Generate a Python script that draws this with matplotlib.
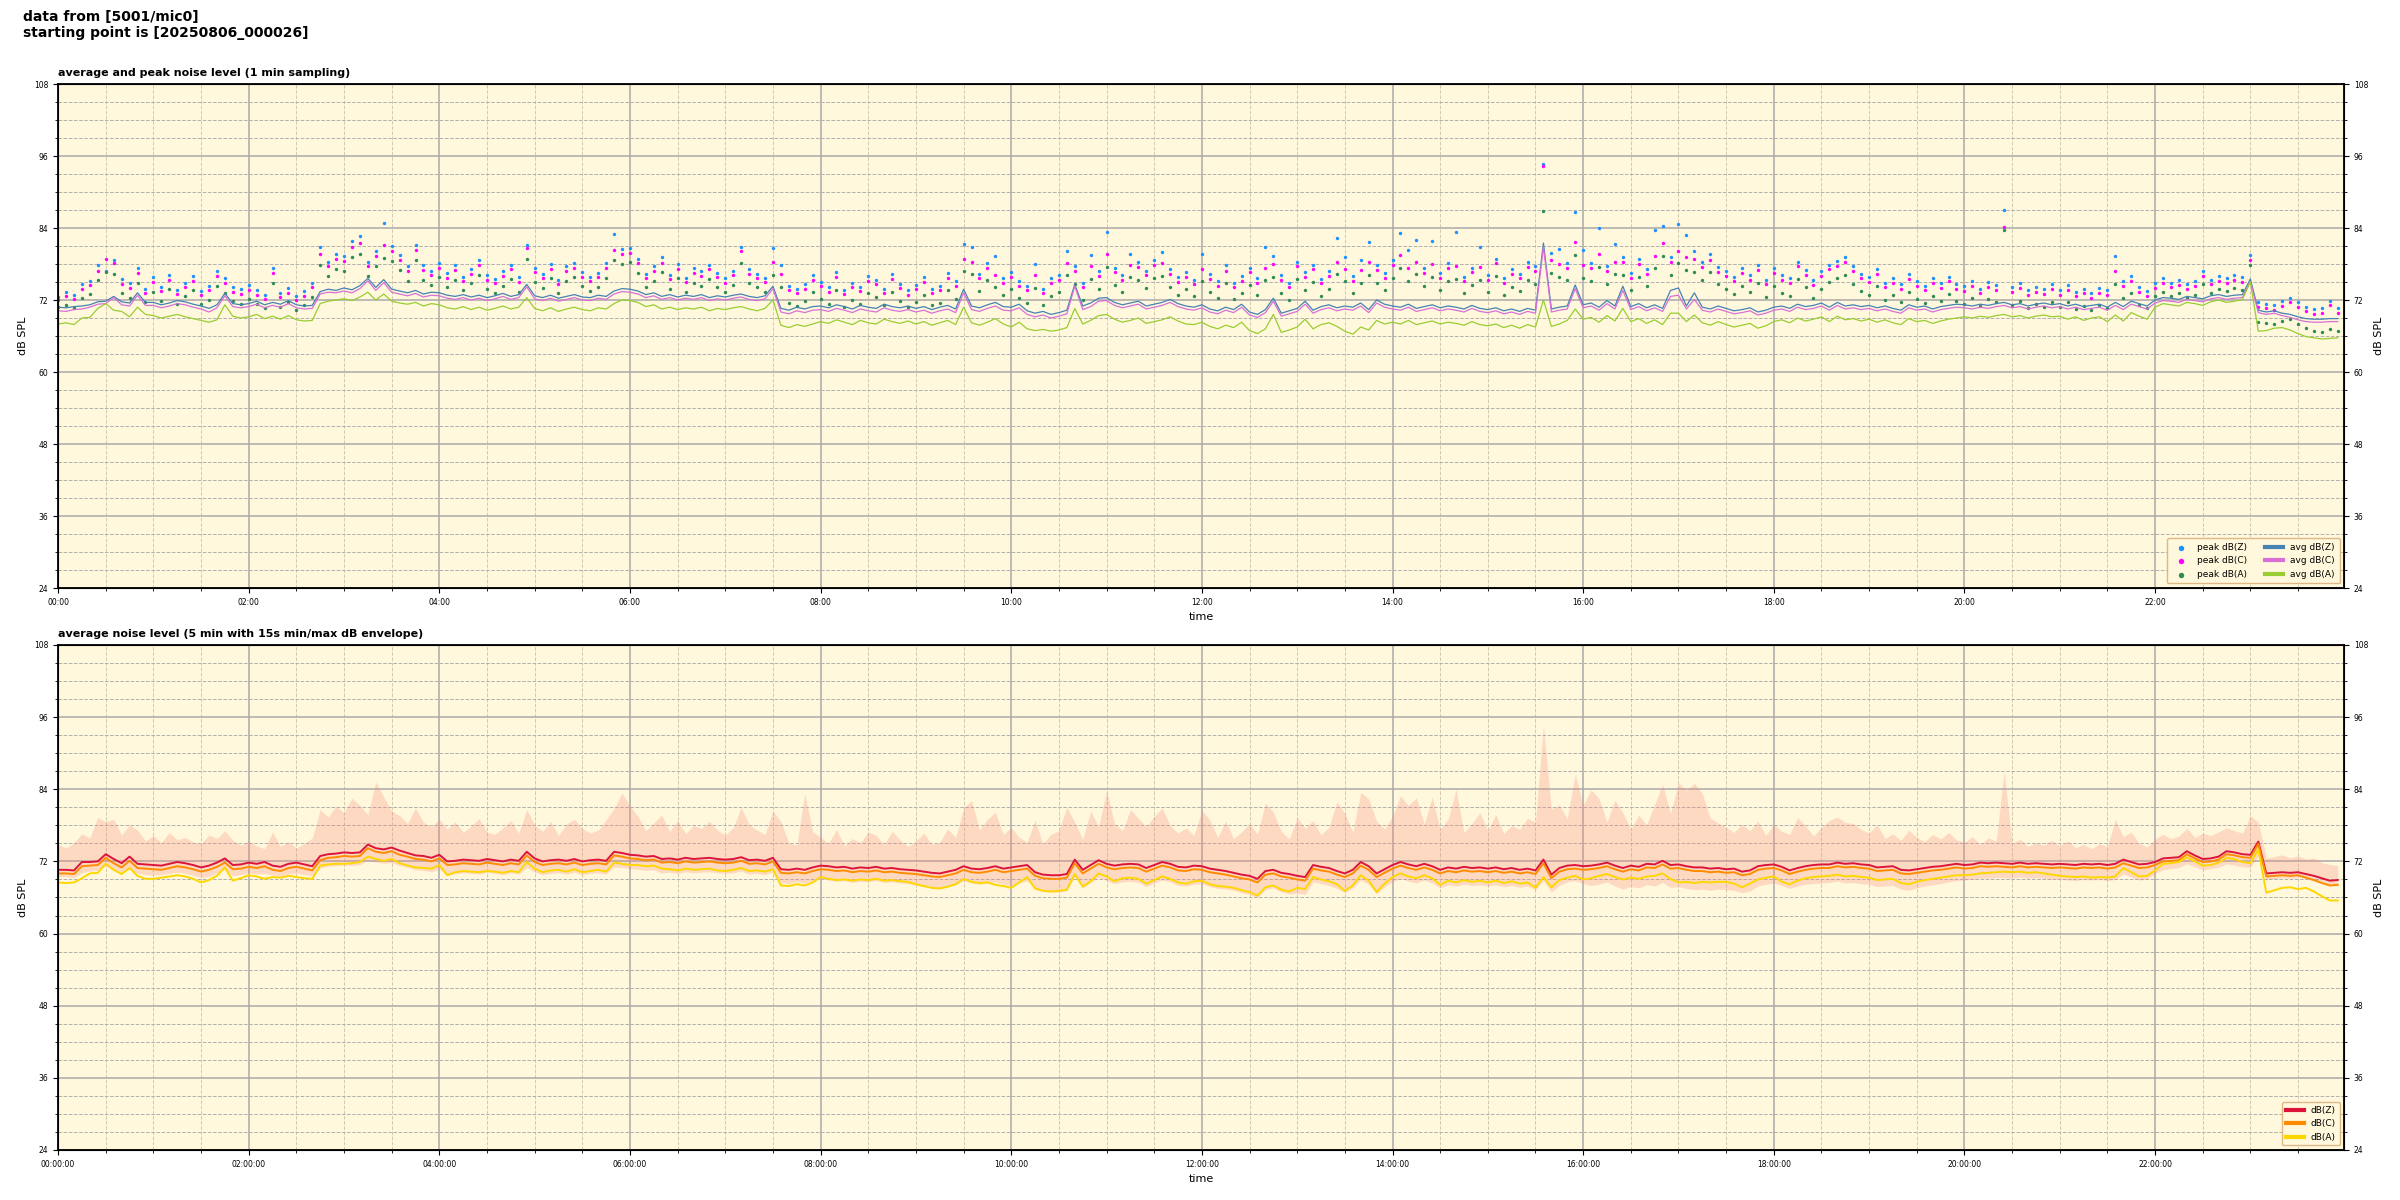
import numpy as np
import matplotlib
matplotlib.use('Agg')
import matplotlib.pyplot as plt
import matplotlib.dates as mdates
from matplotlib.ticker import MultipleLocator

# 1 min sampling, every 5 min (one row = one hour)
avg_z = [
    70.8, 70.7, 70.9, 71.0, 71.2, 71.7, 71.8, 72.6, 71.7, 71.5, 73.2, 71.6,
    71.6, 71.2, 71.5, 71.9, 71.7, 71.3, 71.0, 70.6, 71.2, 73.1, 71.4, 71.2,
    71.4, 71.8, 71.2, 71.6, 71.3, 71.9, 71.2, 71.0, 71.1, 73.4, 73.8, 73.6,
    74.0, 73.7, 74.4, 75.6, 74.1, 75.4, 73.8, 73.5, 73.2, 73.6, 73.0, 73.3,
    73.2, 72.8, 72.6, 72.9, 72.5, 72.8, 72.4, 72.7, 73.1, 72.6, 72.9, 74.6,
    72.7, 72.4, 72.8, 72.3, 72.6, 72.9, 72.5, 72.4, 72.8, 72.6, 73.5, 73.9,
    73.8, 73.5, 72.9, 73.2, 72.6, 72.9, 72.5, 72.8, 72.6, 72.9, 72.4, 72.7,
    72.5, 72.8, 73.0, 72.6, 72.4, 72.7, 74.3, 70.6, 70.3, 70.8, 70.5, 70.9,
    71.0, 70.7, 71.2, 70.9, 70.5, 71.1, 70.8, 70.6, 71.3, 70.9, 70.7, 71.0,
    70.6, 70.9, 70.4, 70.8, 71.1, 70.5, 73.8, 71.0, 70.7, 71.2, 71.6, 70.9,
    70.8, 71.3, 70.2, 69.8, 70.1, 69.6, 69.9, 70.3, 74.6, 71.0, 71.5, 72.3,
    72.4, 71.6, 71.2, 71.5, 71.8, 71.0, 71.3, 71.6, 72.1, 71.4, 71.0, 70.8,
    71.2, 70.5, 70.2, 70.8, 70.4, 71.3, 70.0, 69.6, 70.4, 72.3, 69.8, 70.2,
    70.6, 71.8, 70.3, 70.9, 71.2, 70.7, 71.0, 70.8, 71.5, 70.4, 72.0, 71.3,
    71.0, 70.8, 71.3, 70.6, 70.9, 71.2, 70.7, 71.0, 70.8, 70.5, 71.1, 70.6,
    70.4, 70.7, 70.2, 70.5, 70.1, 70.6, 70.3, 81.5, 70.5, 70.8, 71.0, 74.5,
    71.2, 71.5, 70.8, 71.9, 71.0, 74.3, 70.9, 71.4, 70.7, 71.2, 70.6, 73.6,
    74.0, 71.0, 73.2, 70.8, 70.5, 71.0, 70.6, 70.2, 70.4, 70.7, 70.0, 70.3,
    70.8, 71.0, 70.6, 71.3, 70.9, 71.1, 71.5, 70.8, 71.6, 71.0, 71.2, 70.9,
    71.1, 70.7, 71.0, 70.6, 70.3, 71.2, 70.8, 71.0, 70.5, 70.9, 71.1, 71.3,
    71.2, 71.0, 71.3, 71.1, 71.4, 71.6, 71.2, 71.4, 71.0, 71.3, 71.5, 71.2,
    71.4, 71.0, 71.3, 70.9, 71.1, 71.3, 70.8, 71.6, 70.9, 71.8, 71.4, 71.0,
    72.0, 72.4, 72.3, 72.1, 72.6, 72.4, 72.2, 72.7, 72.9, 72.6, 72.8, 72.9,
    75.5, 70.3, 70.0, 70.2, 69.8, 69.6, 69.2, 68.9, 68.8, 68.8, 68.9, 68.9,
]
avg_c = [
    70.2, 70.1, 70.4, 70.5, 70.8, 71.3, 71.4, 72.4, 71.2, 71.0, 72.8, 71.1,
    71.1, 70.7, 71.0, 71.4, 71.2, 70.8, 70.5, 70.0, 70.7, 72.7, 70.9, 70.7,
    70.9, 71.3, 70.7, 71.1, 70.8, 71.4, 70.7, 70.5, 70.6, 73.0, 73.3, 73.2,
    73.5, 73.2, 73.9, 75.2, 73.6, 74.9, 73.3, 73.0, 72.7, 73.1, 72.5, 72.8,
    72.7, 72.3, 72.1, 72.4, 72.0, 72.3, 71.9, 72.2, 72.6, 72.1, 72.4, 74.2,
    72.2, 71.9, 72.3, 71.8, 72.1, 72.4, 72.0, 71.9, 72.3, 72.1, 73.0, 73.4,
    73.3, 73.0, 72.4, 72.7, 72.1, 72.4, 72.0, 72.3, 72.1, 72.4, 71.9, 72.2,
    72.0, 72.3, 72.5, 72.1, 71.9, 72.2, 73.9, 70.0, 69.7, 70.2, 69.9, 70.3,
    70.4, 70.1, 70.6, 70.3, 69.9, 70.5, 70.2, 70.0, 70.7, 70.3, 70.1, 70.4,
    70.0, 70.3, 69.8, 70.2, 70.5, 69.9, 73.2, 70.4, 70.1, 70.6, 71.0, 70.3,
    70.2, 70.7, 69.6, 69.2, 69.5, 69.0, 69.3, 69.7, 74.3, 70.4, 70.9, 71.8,
    71.9, 71.1, 70.7, 71.0, 71.3, 70.5, 70.8, 71.1, 71.6, 70.9, 70.5, 70.3,
    70.7, 70.0, 69.7, 70.3, 69.9, 70.8, 69.5, 69.1, 69.9, 71.8, 69.3, 69.7,
    70.1, 71.3, 69.8, 70.4, 70.7, 70.2, 70.5, 70.3, 71.0, 69.9, 71.5, 70.8,
    70.5, 70.3, 70.8, 70.1, 70.4, 70.7, 70.2, 70.5, 70.3, 70.0, 70.6, 70.1,
    69.9, 70.2, 69.7, 70.0, 69.6, 70.1, 69.8, 80.8, 70.0, 70.3, 70.5, 73.9,
    70.7, 71.0, 70.3, 71.4, 70.5, 73.6, 70.4, 70.9, 70.2, 70.7, 70.1, 72.6,
    72.8, 70.5, 72.1, 70.3, 70.0, 70.5, 70.1, 69.7, 69.9, 70.2, 69.5, 69.8,
    70.3, 70.5, 70.1, 70.8, 70.4, 70.6, 71.0, 70.3, 71.1, 70.5, 70.7, 70.4,
    70.6, 70.2, 70.5, 70.1, 69.8, 70.7, 70.3, 70.5, 70.0, 70.4, 70.6, 70.8,
    70.7, 70.5, 70.8, 70.6, 70.9, 71.1, 70.7, 70.9, 70.5, 70.8, 71.0, 70.7,
    70.9, 70.5, 70.8, 70.4, 70.6, 70.8, 70.3, 71.1, 70.4, 71.3, 70.9, 70.5,
    71.5, 71.9, 71.8, 71.6, 72.1, 71.9, 71.7, 72.2, 72.4, 72.1, 72.3, 72.4,
    75.1, 69.9, 69.6, 69.8, 69.4, 69.1, 68.7, 68.4, 68.3, 68.3, 68.4, 68.4,
]
avg_a = [
    68.0, 68.2, 67.9, 69.0, 69.1, 70.6, 71.4, 70.3, 70.1, 69.2, 70.8, 69.6,
    69.4, 69.0, 69.3, 69.6, 69.2, 68.9, 68.6, 68.3, 68.7, 71.2, 69.3, 69.0,
    69.2, 69.6, 68.9, 69.3, 68.8, 69.4, 68.7, 68.5, 68.6, 71.4, 71.8, 72.0,
    72.2, 71.9, 72.5, 73.3, 72.0, 73.0, 71.8, 71.5, 71.3, 71.6, 71.0, 71.4,
    71.2, 70.7, 70.5, 70.9, 70.4, 70.8, 70.3, 70.6, 71.0, 70.5, 70.8, 72.4,
    70.6, 70.2, 70.7, 70.1, 70.5, 70.8, 70.4, 70.2, 70.7, 70.5, 71.4, 72.0,
    71.9, 71.6, 70.9, 71.2, 70.5, 70.8, 70.4, 70.7, 70.5, 70.8, 70.2, 70.6,
    70.4, 70.7, 70.9, 70.5, 70.2, 70.6, 72.0, 67.8, 67.4, 67.9, 67.6, 68.0,
    68.4, 68.1, 68.7, 68.3, 67.9, 68.6, 68.2, 68.0, 68.8, 68.4, 68.1, 68.5,
    68.0, 68.4, 67.8, 68.2, 68.6, 67.9, 70.8, 68.2, 67.8, 68.3, 68.9, 68.0,
    67.5, 68.3, 67.2, 66.9, 67.1, 66.8, 67.0, 67.4, 70.6, 68.0, 68.6, 69.4,
    69.6, 68.8, 68.3, 68.6, 69.0, 68.1, 68.4, 68.7, 69.2, 68.5, 68.0, 67.9,
    68.3, 67.6, 67.2, 67.8, 67.4, 68.3, 66.9, 66.4, 67.2, 69.6, 66.6, 67.0,
    67.5, 68.8, 67.2, 67.9, 68.2, 67.6, 66.8, 66.3, 67.5, 67.0, 68.6, 68.0,
    68.3, 68.0, 68.6, 67.9, 68.2, 68.5, 68.0, 68.3, 68.1, 67.8, 68.4, 67.9,
    67.7, 68.0, 67.4, 67.8, 67.3, 67.9, 67.5, 72.0, 67.6, 68.0, 68.6, 70.5,
    68.8, 69.1, 68.3, 69.4, 68.5, 70.6, 68.4, 68.9, 68.1, 68.7, 67.9, 69.8,
    69.8, 68.4, 69.5, 68.2, 67.8, 68.4, 67.9, 67.5, 67.8, 68.1, 67.3, 67.7,
    68.4, 68.7, 68.2, 69.0, 68.5, 68.8, 69.2, 68.4, 69.3, 68.7, 68.9, 68.5,
    68.8, 68.3, 68.7, 68.2, 67.9, 68.9, 68.4, 68.6, 68.1, 68.5, 68.8, 69.0,
    69.2, 69.0, 69.3, 69.1, 69.4, 69.6, 69.2, 69.4, 69.0, 69.3, 69.5, 69.2,
    69.3, 68.8, 69.2, 68.6, 69.0, 69.2, 68.4, 69.5, 68.5, 69.9, 69.3, 68.8,
    70.8, 71.4, 71.2, 71.0, 71.6, 71.4, 71.1, 71.7, 72.0, 71.6, 71.8, 72.1,
    75.0, 66.8, 66.9, 67.3, 67.4, 67.0, 66.4, 65.9, 65.7, 65.5, 65.6, 65.7,
]
peak_z = [
    72.5, 73.4, 72.8, 74.6, 75.2, 77.8, 76.9, 78.7, 75.5, 74.8, 77.3, 73.9,
    75.8, 74.2, 76.1, 73.7, 74.9, 76.0, 73.5, 74.4, 76.9, 75.6, 74.1, 73.8,
    74.5, 73.6, 72.9, 77.4, 73.2, 74.0, 72.7, 73.5, 74.9, 80.9, 78.4, 79.6,
    79.3, 81.8, 82.6, 78.4, 80.2, 84.9, 81.0, 79.5, 77.6, 81.2, 77.8, 76.9,
    78.2, 76.5, 77.8, 75.9, 77.2, 78.6, 76.1, 75.5, 76.8, 77.9, 75.8, 81.1,
    77.4, 76.3, 78.0, 75.4, 77.6, 78.2, 76.7, 75.8, 76.5, 78.1, 83.0, 80.5,
    80.7, 78.9, 76.4, 77.6, 79.1, 76.2, 78.0, 75.7, 77.3, 76.8, 77.9, 76.5,
    75.6, 76.9, 80.8, 77.2, 76.4, 75.7, 80.6, 77.9, 74.3, 73.8, 74.6, 76.1,
    75.0, 74.1, 76.6, 73.7, 74.9, 74.2, 76.0, 75.4, 73.9, 76.3, 74.7, 73.6,
    74.5, 75.8, 73.9, 74.3, 76.5, 75.1, 81.3, 80.8, 76.4, 78.2, 79.3, 75.6,
    76.7, 75.1, 74.3, 78.0, 73.9, 75.6, 76.2, 80.1, 77.6, 74.8, 79.5, 76.8,
    83.3, 77.4, 76.2, 79.7, 78.3, 76.9, 78.6, 80.0, 77.1, 75.8, 76.7, 75.4,
    79.6, 76.3, 75.1, 77.8, 74.9, 76.0, 77.4, 75.6, 80.8, 79.3, 76.1, 74.8,
    78.4, 76.6, 77.9, 75.5, 76.8, 82.3, 79.1, 76.0, 78.7, 81.6, 77.8, 76.5,
    78.6, 83.2, 80.4, 82.0, 77.3, 81.8, 76.5, 78.1, 83.3, 75.9, 77.4, 80.8,
    76.2, 78.9, 75.7, 77.1, 76.4, 78.3, 77.6, 94.6, 79.8, 80.5, 78.2, 86.7,
    80.4, 78.1, 84.0, 77.6, 81.3, 79.2, 76.5, 78.8, 77.2, 83.6, 84.4, 79.1,
    84.7, 82.9, 80.1, 78.3, 79.6, 77.5, 76.8, 75.9, 77.3, 76.2, 77.8, 75.4,
    77.3, 76.1, 75.6, 78.4, 77.0, 75.3, 76.8, 77.9, 78.5, 79.1, 77.6, 76.4,
    75.8, 77.2, 74.9, 75.7, 74.6, 76.3, 75.1, 74.4, 75.6, 74.8, 75.9, 74.7,
    74.3, 75.2, 73.9, 75.0, 74.5, 87.0, 74.1, 74.8, 73.6, 74.2, 73.8, 74.6,
    73.7, 74.5, 73.4, 73.9, 73.2, 74.0, 73.6, 79.4, 75.2, 76.0, 74.1, 73.5,
    74.8, 75.6, 74.9, 75.3, 74.6, 75.1, 76.8, 75.4, 76.0, 75.7, 76.2, 75.8,
    79.5, 71.6, 71.4, 71.2, 71.8, 72.4, 71.6, 70.9, 70.5, 70.7, 71.9, 70.6,
]
peak_c = [
    72.0, 72.6, 72.1, 73.8, 74.5, 76.9, 78.8, 78.2, 74.6, 74.0, 76.5, 73.2,
    75.0, 73.5, 75.4, 73.0, 74.1, 75.2, 72.8, 73.6, 76.0, 74.8, 73.4, 73.0,
    73.7, 72.9, 72.2, 76.5, 72.5, 73.2, 72.0, 72.7, 74.1, 79.6, 77.6, 78.8,
    78.5, 80.9, 81.5, 77.6, 79.3, 81.1, 80.2, 78.6, 76.8, 80.4, 77.0, 76.1,
    77.4, 75.7, 77.0, 75.2, 76.4, 77.8, 75.4, 74.8, 76.0, 77.1, 75.0, 80.7,
    76.6, 75.6, 77.2, 74.7, 76.8, 77.4, 75.9, 75.1, 75.8, 77.3, 80.4, 79.6,
    79.9, 78.1, 75.7, 76.8, 78.2, 75.5, 77.2, 75.0, 76.5, 76.0, 77.1, 75.8,
    74.9, 76.1, 80.1, 76.4, 75.7, 75.0, 78.3, 76.4, 73.6, 73.1, 73.9, 75.4,
    74.3, 73.4, 75.8, 73.0, 74.1, 73.5, 75.2, 74.6, 73.2, 75.5, 74.0, 72.9,
    73.8, 75.0, 73.2, 73.6, 75.7, 74.3, 78.9, 78.4, 75.6, 77.4, 76.2, 74.9,
    75.9, 74.4, 73.6, 76.1, 73.2, 74.8, 75.4, 78.2, 76.8, 74.1, 77.6, 76.0,
    79.6, 76.6, 75.4, 77.9, 77.5, 76.1, 77.8, 78.1, 76.3, 75.0, 75.9, 74.7,
    77.2, 75.5, 74.4, 76.9, 74.2, 75.2, 76.6, 74.9, 77.4, 78.0, 75.3, 74.1,
    77.6, 75.8, 77.1, 74.8, 76.0, 78.4, 77.2, 75.2, 77.0, 78.3, 77.0, 75.7,
    77.8, 79.5, 77.3, 78.4, 76.5, 78.0, 75.7, 77.3, 77.6, 75.2, 76.6, 77.5,
    75.4, 78.1, 74.9, 76.3, 75.6, 77.5, 76.8, 94.4, 78.6, 78.0, 77.4, 81.6,
    77.8, 77.3, 79.6, 76.8, 78.4, 78.3, 75.7, 78.0, 76.4, 79.4, 81.5, 78.3,
    80.2, 79.1, 78.8, 77.5, 78.7, 76.7, 76.0, 75.1, 76.5, 75.4, 77.0, 74.6,
    76.5, 75.3, 74.8, 77.6, 76.2, 74.5, 76.0, 77.1, 77.7, 78.3, 76.8, 75.6,
    75.0, 76.4, 74.1, 74.9, 73.8, 75.5, 74.3, 73.6, 74.8, 74.0, 75.1, 73.9,
    73.5, 74.4, 73.1, 74.2, 73.7, 84.1, 73.3, 74.0, 72.8, 73.4, 73.0, 73.8,
    72.9, 73.7, 72.6, 73.1, 72.4, 73.2, 72.8, 76.8, 74.4, 75.2, 73.3, 72.7,
    74.0, 74.8, 74.1, 74.5, 73.8, 74.3, 76.0, 74.6, 75.2, 74.9, 75.4, 75.0,
    78.7, 70.8, 70.6, 70.4, 71.0, 71.6, 70.8, 70.1, 69.7, 69.9, 71.1, 69.8,
]
peak_a = [
    70.8, 71.2, 70.6, 72.4, 73.0, 75.3, 76.6, 76.4, 73.1, 72.4, 74.9, 71.7,
    73.4, 71.9, 73.8, 71.4, 72.6, 73.6, 71.3, 72.0, 74.4, 73.2, 71.8, 71.4,
    72.1, 71.3, 70.6, 74.9, 70.9, 71.6, 70.4, 71.1, 72.5, 77.9, 76.0, 77.1,
    76.9, 79.2, 79.6, 76.0, 77.7, 79.0, 78.5, 77.0, 75.2, 78.7, 75.4, 74.5,
    75.8, 74.1, 75.4, 73.6, 74.8, 76.2, 73.8, 73.2, 74.4, 75.5, 73.4, 78.9,
    75.0, 74.0, 75.6, 73.1, 75.2, 75.8, 74.3, 73.5, 74.2, 75.7, 78.6, 78.0,
    78.3, 76.5, 74.1, 75.2, 76.6, 73.9, 75.6, 73.4, 74.9, 74.4, 75.5, 74.2,
    73.3, 74.5, 78.2, 74.8, 74.1, 73.4, 76.1, 74.2, 71.5, 71.0, 71.8, 73.3,
    72.2, 71.3, 73.7, 70.9, 72.0, 71.4, 73.1, 72.5, 71.1, 73.4, 71.9, 70.8,
    71.7, 72.9, 71.1, 71.5, 73.6, 72.2, 76.8, 76.3, 73.5, 75.3, 74.1, 72.8,
    73.8, 72.3, 71.5, 74.0, 71.1, 72.7, 73.3, 76.1, 74.7, 72.0, 75.5, 73.9,
    77.5, 74.5, 73.3, 75.8, 75.4, 74.0, 75.7, 76.0, 74.2, 72.9, 73.8, 72.6,
    75.1, 73.4, 72.3, 74.8, 72.1, 73.1, 74.5, 72.8, 75.3, 75.9, 73.2, 72.0,
    75.5, 73.7, 75.0, 72.7, 73.9, 76.3, 75.1, 73.1, 74.9, 76.2, 74.9, 73.6,
    75.7, 77.4, 75.2, 76.3, 74.4, 75.9, 73.6, 75.2, 75.5, 73.1, 74.5, 75.4,
    73.3, 76.0, 72.8, 74.2, 73.5, 75.4, 74.7, 86.8, 76.5, 75.9, 75.3, 79.5,
    75.7, 75.2, 77.5, 74.7, 76.3, 76.2, 73.6, 75.9, 74.3, 77.3, 79.4, 76.2,
    78.1, 77.0, 76.7, 75.4, 76.6, 74.6, 73.9, 73.0, 74.4, 73.3, 74.9, 72.5,
    74.4, 73.2, 72.7, 75.5, 74.1, 72.4, 73.9, 75.0, 75.6, 76.2, 74.7, 73.5,
    72.9, 74.3, 72.0, 72.8, 71.7, 73.4, 72.2, 71.5, 72.7, 71.9, 73.0, 71.8,
    71.4, 72.3, 71.0, 72.1, 71.6, 83.6, 71.2, 71.9, 70.7, 71.3, 70.9, 71.7,
    70.8, 71.6, 70.5, 71.0, 70.3, 71.1, 70.7, 74.7, 72.3, 73.1, 71.2, 70.6,
    72.6, 73.4, 72.7, 73.1, 72.4, 72.9, 74.6, 73.2, 73.8, 73.5, 74.0, 73.6,
    77.8, 68.3, 68.1, 68.0, 68.5, 68.9, 68.0, 67.3, 66.9, 66.7, 67.2, 66.8,
]

# 5 min averages
lvl_z = [
    70.6, 70.6, 70.5, 71.9, 71.9, 72.0, 73.2, 72.4, 71.7, 72.8, 71.6, 71.5,
    71.4, 71.3, 71.6, 71.9, 71.7, 71.4, 71.0, 71.3, 71.8, 72.5, 71.4, 71.5,
    71.8, 71.6, 71.9, 71.3, 71.1, 71.6, 71.8, 71.5, 71.2, 72.9, 73.2, 73.3,
    73.5, 73.4, 73.5, 74.8, 74.2, 74.0, 74.3, 73.8, 73.4, 73.0, 72.9, 72.6,
    73.1, 72.0, 72.1, 72.3, 72.2, 72.1, 72.4, 72.2, 72.0, 72.3, 72.1, 73.6,
    72.5, 72.0, 72.2, 72.3, 72.1, 72.4, 72.0, 72.2, 72.3, 72.1, 73.6, 73.4,
    73.1, 73.0, 72.8, 72.9, 72.4, 72.5, 72.3, 72.6, 72.4, 72.5, 72.6, 72.4,
    72.3, 72.4, 72.7, 72.2, 72.3, 72.1, 72.6, 70.7, 70.6, 70.8, 70.6, 71.0,
    71.3, 71.2, 71.0, 71.1, 70.8, 71.0, 70.9, 71.1, 70.8, 70.9, 70.7, 70.6,
    70.5, 70.3, 70.1, 70.0, 70.3, 70.6, 71.2, 70.8, 70.7, 70.9, 71.2, 70.8,
    71.0, 71.2, 71.4, 70.2, 69.8, 69.7, 69.7, 69.9, 72.3, 70.6, 71.4, 72.2,
    71.6, 71.3, 71.5, 71.6, 71.5, 70.9, 71.4, 71.9, 71.6, 71.1, 71.0, 71.3,
    71.2, 70.8, 70.6, 70.4, 70.1, 69.8, 69.6, 69.1, 70.4, 70.6, 70.1, 69.9,
    69.6, 69.4, 71.4, 71.1, 70.9, 70.4, 70.0, 70.6, 71.9, 71.2, 70.0, 70.7,
    71.4, 71.9, 71.5, 71.2, 71.6, 71.2, 70.6, 71.0, 70.8, 71.1, 70.9, 71.0,
    70.8, 71.0, 70.7, 70.9, 70.6, 70.8, 70.5, 72.3, 69.8, 70.9, 71.3, 71.4,
    71.2, 71.3, 71.5, 71.8, 71.3, 70.9, 71.3, 71.1, 71.6, 71.5, 72.1, 71.4,
    71.5, 71.2, 71.0, 71.0, 70.8, 70.9, 70.7, 70.8, 70.3, 70.5, 71.2, 71.4,
    71.5, 71.1, 70.5, 70.9, 71.2, 71.4, 71.5, 71.5, 71.8, 71.6, 71.7, 71.5,
    71.4, 71.0, 71.1, 71.2, 70.6, 70.5, 70.7, 70.9, 71.1, 71.2, 71.4, 71.6,
    71.4, 71.5, 71.8, 71.7, 71.8, 71.7, 71.6, 71.8, 71.6, 71.7, 71.6, 71.5,
    71.6, 71.5, 71.4, 71.6, 71.5, 71.6, 71.4, 71.6, 72.3, 71.9, 71.5, 71.6,
    71.9, 72.5, 72.6, 72.7, 73.7, 73.0, 72.4, 72.5, 72.8, 73.7, 73.5, 73.2,
    73.1, 75.3, 70.0, 70.1, 70.2, 70.1, 70.2, 69.9, 69.6, 69.2, 68.8, 68.9,
]
lvl_c = [
    70.0, 70.0, 69.9, 71.2, 71.3, 71.4, 72.6, 71.7, 71.0, 72.1, 70.9, 70.8,
    70.7, 70.6, 70.9, 71.2, 71.0, 70.7, 70.3, 70.6, 71.1, 71.8, 70.7, 70.8,
    71.1, 70.9, 71.2, 70.6, 70.4, 70.9, 71.1, 70.8, 70.5, 72.2, 72.6, 72.7,
    72.9, 72.8, 72.9, 74.2, 73.6, 73.4, 73.7, 73.1, 72.8, 72.4, 72.3, 72.0,
    72.5, 71.4, 71.5, 71.7, 71.6, 71.5, 71.8, 71.6, 71.4, 71.7, 71.5, 73.0,
    71.9, 71.4, 71.6, 71.7, 71.5, 71.8, 71.4, 71.6, 71.7, 71.5, 73.0, 72.8,
    72.5, 72.4, 72.2, 72.3, 71.8, 71.9, 71.7, 72.0, 71.8, 71.9, 72.0, 71.8,
    71.7, 71.8, 72.1, 71.6, 71.7, 71.5, 72.0, 70.1, 70.0, 70.2, 70.0, 70.4,
    70.7, 70.6, 70.4, 70.5, 70.2, 70.4, 70.3, 70.5, 70.2, 70.3, 70.1, 70.0,
    69.9, 69.7, 69.5, 69.4, 69.7, 70.0, 70.6, 70.2, 70.1, 70.3, 70.6, 70.2,
    70.4, 70.6, 70.8, 69.6, 69.2, 69.1, 69.1, 69.3, 71.7, 70.0, 70.8, 71.6,
    71.0, 70.7, 70.9, 71.0, 70.9, 70.3, 70.8, 71.3, 71.0, 70.5, 70.4, 70.7,
    70.6, 70.2, 70.0, 69.8, 69.5, 69.2, 69.0, 68.5, 69.8, 70.0, 69.5, 69.3,
    69.0, 68.8, 70.8, 70.5, 70.3, 69.8, 69.4, 70.0, 71.3, 70.6, 69.4, 70.1,
    70.8, 71.3, 70.9, 70.6, 71.0, 70.6, 70.0, 70.4, 70.2, 70.5, 70.3, 70.4,
    70.2, 70.4, 70.1, 70.3, 70.0, 70.2, 69.9, 71.7, 69.2, 70.3, 70.7, 70.8,
    70.6, 70.7, 70.9, 71.2, 70.7, 70.3, 70.7, 70.5, 71.0, 70.9, 71.5, 70.8,
    70.9, 70.6, 70.4, 70.4, 70.2, 70.3, 70.1, 70.2, 69.7, 69.9, 70.6, 70.8,
    70.9, 70.5, 69.9, 70.3, 70.6, 70.8, 70.9, 70.9, 71.2, 71.0, 71.1, 70.9,
    70.8, 70.4, 70.5, 70.6, 70.0, 69.9, 70.1, 70.3, 70.5, 70.6, 70.8, 71.0,
    70.8, 70.9, 71.2, 71.1, 71.2, 71.1, 71.0, 71.2, 71.0, 71.1, 71.0, 70.9,
    71.0, 70.9, 70.8, 71.0, 70.9, 71.0, 70.8, 71.0, 71.7, 71.3, 70.9, 71.0,
    71.4, 72.0, 72.1, 72.2, 73.2, 72.5, 71.9, 72.0, 72.3, 73.2, 73.0, 72.7,
    72.6, 74.9, 69.5, 69.6, 69.7, 69.6, 69.7, 69.3, 68.9, 68.4, 68.0, 68.1,
]
lvl_a = [
    68.5, 68.4, 68.5, 69.2, 70.0, 70.1, 71.6, 70.6, 69.9, 70.9, 69.6, 69.1,
    69.1, 69.3, 69.5, 69.7, 69.5, 69.1, 68.5, 68.9, 69.6, 71.0, 68.8, 69.2,
    69.7, 69.5, 69.1, 69.4, 69.3, 69.6, 69.4, 69.2, 69.1, 71.3, 71.5, 71.6,
    71.6, 71.7, 71.9, 72.8, 72.4, 72.1, 72.4, 71.7, 71.3, 71.0, 70.9, 70.8,
    71.4, 69.7, 70.2, 70.4, 70.3, 70.2, 70.4, 70.3, 70.1, 70.4, 70.2, 71.9,
    70.8, 70.2, 70.5, 70.6, 70.3, 70.7, 70.2, 70.4, 70.6, 70.3, 71.8, 71.6,
    71.4, 71.4, 71.2, 71.3, 70.8, 70.7, 70.5, 70.8, 70.6, 70.7, 70.8, 70.5,
    70.4, 70.6, 70.9, 70.4, 70.5, 70.3, 70.7, 68.0, 67.9, 68.2, 68.0, 68.5,
    69.4, 69.1, 68.9, 69.0, 68.8, 69.0, 68.9, 69.1, 68.8, 68.9, 68.7, 68.6,
    68.2, 67.9, 67.6, 67.5, 67.8, 68.2, 69.1, 68.6, 68.4, 68.5, 68.1, 67.9,
    67.6, 68.5, 69.4, 67.5, 67.1, 67.0, 67.1, 67.3, 69.9, 67.8, 68.7, 70.0,
    69.5, 68.7, 69.2, 69.3, 69.1, 68.3, 68.9, 69.5, 69.1, 68.5, 68.3, 68.7,
    68.8, 68.2, 67.9, 67.8, 67.6, 67.2, 66.9, 66.3, 67.7, 68.0, 67.3, 67.0,
    67.6, 67.4, 69.4, 69.0, 68.7, 68.2, 67.1, 68.0, 69.7, 68.8, 66.9, 68.3,
    69.4, 70.0, 69.5, 69.2, 69.7, 69.2, 68.1, 68.8, 68.5, 68.9, 68.6, 68.8,
    68.5, 68.8, 68.4, 68.7, 68.3, 68.5, 67.6, 69.4, 67.7, 68.9, 69.3, 69.6,
    69.0, 69.2, 69.6, 69.9, 69.4, 69.0, 69.3, 69.1, 69.5, 69.6, 70.0, 69.1,
    68.5, 68.6, 68.4, 68.6, 68.5, 68.6, 68.6, 68.3, 67.7, 68.3, 69.0, 69.3,
    69.5, 68.6, 68.2, 68.8, 69.2, 69.4, 69.5, 69.6, 69.8, 69.5, 69.6, 69.4,
    69.3, 68.9, 69.0, 69.1, 68.4, 68.2, 68.6, 68.9, 69.1, 69.3, 69.5, 69.7,
    69.7, 69.8, 70.0, 70.1, 70.2, 70.3, 70.2, 70.3, 70.1, 70.2, 70.0, 69.8,
    69.6, 69.5, 69.4, 69.5, 69.3, 69.4, 69.3, 69.5, 70.9, 70.2, 69.5, 69.6,
    70.5, 71.6, 71.7, 71.9, 72.7, 72.0, 71.3, 71.4, 71.8, 72.6, 72.4, 71.9,
    71.7, 74.0, 66.8, 67.2, 67.6, 67.7, 67.4, 67.6, 67.0, 66.2, 65.5, 65.5,
]
# 15 s min/max envelope, read every 5 min
env_hi = [
    74.8, 74.2, 75.1, 76.6, 75.9, 79.3, 78.6, 79.0, 76.4, 78.1, 77.2, 75.4,
    76.3, 75.1, 76.8, 75.6, 76.0, 75.2, 74.9, 76.4, 75.8, 77.1, 75.5, 74.7,
    75.4, 74.6, 74.1, 76.9, 74.5, 75.3, 74.2, 75.0, 75.9, 80.6, 79.4, 81.2,
    80.1, 82.5, 81.3, 79.8, 85.2, 82.7, 80.4, 79.6, 78.3, 80.9, 78.5, 77.8,
    79.0, 77.4, 78.6, 76.8, 77.9, 79.1, 76.9, 76.5, 77.6, 78.8, 76.7, 80.6,
    78.1, 77.0, 78.7, 76.3, 78.2, 79.0, 77.5, 76.7, 77.2, 78.9, 80.8, 83.4,
    81.2, 79.5, 77.1, 78.4, 79.7, 77.0, 78.8, 76.6, 78.0, 77.5, 78.7, 77.2,
    76.4, 77.6, 81.0, 78.1, 77.2, 76.5, 80.4, 78.6, 75.1, 74.7, 83.3, 76.9,
    76.0, 75.0, 77.3, 74.6, 75.8, 75.1, 76.9, 76.3, 74.8, 77.0, 75.6, 74.5,
    75.4, 76.7, 74.8, 75.2, 77.4, 76.0, 80.9, 82.1, 77.3, 79.0, 80.2, 76.5,
    77.6, 76.0, 75.2, 78.8, 74.9, 76.5, 77.1, 81.0, 78.5, 75.7, 80.4, 77.7,
    83.8, 78.3, 77.1, 80.6, 79.2, 77.8, 79.5, 80.9, 78.0, 76.7, 77.6, 76.3,
    80.5, 78.9, 76.0, 78.7, 75.8, 76.9, 78.3, 76.5, 81.7, 80.2, 77.0, 75.7,
    79.3, 77.5, 78.8, 76.4, 77.7, 81.9, 80.0, 76.9, 83.5, 82.4, 78.7, 77.4,
    79.5, 82.9, 81.3, 82.6, 78.2, 82.7, 77.4, 79.0, 84.0, 76.8, 78.3, 80.1,
    77.1, 79.8, 76.6, 78.0, 77.3, 79.2, 78.5, 94.7, 80.7, 81.4, 79.1, 86.5,
    81.3, 83.9, 82.5, 78.5, 82.2, 80.1, 77.4, 79.7, 78.1, 81.5, 84.8, 80.0,
    85.1, 83.8, 85.0, 83.3, 79.2, 78.4, 77.7, 76.8, 78.2, 77.1, 78.7, 76.3,
    78.2, 77.0, 76.5, 79.3, 77.9, 76.2, 77.7, 78.8, 79.4, 78.5, 78.3, 77.3,
    76.7, 78.1, 75.8, 76.6, 75.5, 77.2, 76.0, 75.3, 76.5, 75.7, 76.8, 75.6,
    75.2, 76.1, 74.8, 75.9, 75.4, 87.0, 75.0, 75.7, 74.5, 75.1, 74.7, 75.5,
    74.6, 75.4, 74.3, 74.8, 74.1, 74.9, 74.5, 79.0, 76.1, 76.9, 75.0, 74.4,
    75.7, 76.5, 75.8, 76.2, 77.5, 76.0, 76.7, 76.3, 76.9, 77.6, 77.1, 76.7,
    79.6, 78.5, 72.5, 72.8, 73.1, 72.6, 72.9, 72.4, 72.6, 71.8, 71.5, 71.3,
]
env_lo = [
    69.4, 69.5, 69.3, 70.1, 70.4, 70.5, 71.3, 70.6, 70.2, 70.8, 70.0, 69.8,
    69.7, 69.8, 70.0, 70.2, 70.0, 69.7, 69.3, 69.5, 70.1, 70.7, 69.6, 69.8,
    70.1, 69.9, 70.0, 69.7, 69.6, 69.9, 70.0, 69.8, 69.6, 70.9, 71.2, 71.3,
    71.4, 71.3, 71.5, 72.2, 71.9, 71.7, 71.8, 71.3, 71.0, 70.6, 70.5, 70.3,
    70.7, 69.8, 70.0, 70.1, 70.0, 69.9, 70.2, 70.0, 69.8, 70.1, 69.9, 71.0,
    70.2, 69.8, 70.0, 70.1, 69.9, 70.2, 69.8, 70.0, 70.1, 69.9, 71.1, 71.0,
    70.8, 70.7, 70.5, 70.6, 70.1, 70.2, 70.0, 70.3, 70.1, 70.2, 70.3, 70.1,
    70.0, 70.1, 70.4, 69.9, 70.0, 69.8, 70.2, 68.5, 68.3, 68.6, 68.4, 68.8,
    69.2, 68.9, 68.7, 68.8, 68.5, 68.7, 68.6, 68.8, 68.5, 68.6, 68.4, 68.3,
    68.1, 67.8, 67.6, 67.5, 67.8, 68.1, 68.8, 68.4, 68.2, 68.4, 68.6, 68.2,
    68.0, 68.4, 68.8, 67.4, 67.0, 66.9, 66.9, 67.1, 69.5, 67.6, 68.5, 69.3,
    68.8, 68.3, 68.6, 68.7, 68.5, 67.8, 68.4, 68.9, 68.6, 68.0, 67.9, 68.2,
    68.3, 67.8, 67.5, 67.4, 67.2, 66.8, 66.5, 66.0, 67.3, 67.6, 66.9, 66.6,
    66.7, 66.5, 68.6, 68.3, 68.0, 67.5, 66.8, 67.6, 68.9, 68.2, 66.6, 67.8,
    68.6, 69.2, 68.7, 68.4, 68.9, 68.4, 67.6, 68.1, 67.9, 68.2, 68.0, 68.1,
    67.9, 68.1, 67.8, 68.0, 67.7, 67.9, 67.3, 68.8, 66.9, 68.0, 68.6, 68.8,
    68.3, 68.0, 68.2, 68.6, 67.9, 67.4, 67.8, 67.6, 68.1, 67.9, 68.5, 67.7,
    67.8, 67.5, 67.3, 67.4, 67.2, 67.4, 67.3, 67.2, 66.8, 67.1, 67.9, 68.2,
    68.4, 68.0, 67.5, 67.9, 68.2, 68.3, 68.4, 68.5, 68.7, 68.4, 68.5, 68.3,
    68.2, 67.8, 67.9, 68.0, 67.4, 67.2, 67.6, 67.9, 68.1, 68.3, 68.6, 68.8,
    68.9, 69.0, 69.2, 69.2, 69.3, 69.3, 69.2, 69.4, 69.2, 69.3, 69.2, 69.0,
    69.0, 68.9, 68.8, 69.0, 68.9, 69.0, 68.8, 69.0, 69.9, 69.4, 68.9, 69.0,
    70.0, 70.6, 70.8, 71.0, 71.6, 71.1, 70.6, 70.8, 71.0, 71.6, 71.4, 71.1,
    71.0, 72.9, 68.9, 69.1, 69.3, 69.2, 69.4, 69.1, 68.8, 68.5, 68.2, 68.3,
]

day0 = np.datetime64('2025-08-06T00:00')
t = day0 + np.arange(len(avg_z)) * np.timedelta64(5, 'm')

bg = '#fff8dc'

fig = plt.figure(figsize=(24, 12), dpi=100)
fig.text(0.0095, 0.992, 'data from [5001/mic0]\nstarting point is [20250806_000026]',
         fontsize=10, fontweight='bold', va='top', ha='left')


def setup(ax, fmt):
    ax.set_facecolor(bg)
    ax.set_xlim(day0, day0 + np.timedelta64(1439, 'm'))
    ax.set_ylim(24, 108)
    ax.yaxis.set_major_locator(MultipleLocator(12))
    ax.yaxis.set_minor_locator(MultipleLocator(3))
    ax.xaxis.set_major_locator(mdates.HourLocator(interval=2))
    ax.xaxis.set_minor_locator(mdates.MinuteLocator(byminute=[0, 30]))
    ax.xaxis.set_major_formatter(mdates.DateFormatter(fmt))
    ax.set_axisbelow(True)
    ax.grid(which='major', color='#a9a9a9', linewidth=1.1)
    ax.grid(which='minor', axis='y', color='#b0b0b0', linestyle='--', linewidth=0.7)
    ax.grid(which='minor', axis='x', color='#d2c9ae', linestyle='--', linewidth=0.7)
    ax.tick_params(which='both', labelsize=5.5)
    for s in ax.spines.values():
        s.set_linewidth(1.3)
    ax.set_xlabel('time', fontsize=8)
    ax.set_ylabel('dB SPL', fontsize=8)
    # right hand scale
    ax2 = ax.twinx()
    ax2.set_ylim(24, 108)
    ax2.yaxis.set_major_locator(MultipleLocator(12))
    ax2.yaxis.set_minor_locator(MultipleLocator(3))
    ax2.tick_params(which='both', labelsize=5.5)
    ax2.set_ylabel('dB SPL', fontsize=8)
    return ax2


ax1 = fig.add_axes([0.0242, 0.51, 0.9525, 0.42])
setup(ax1, '%H:%M')
ax1.set_title('average and peak noise level (1 min sampling)', loc='left',
              fontsize=8, fontweight='bold')
ax1.scatter(t, peak_z, s=6, color='#1e90ff', linewidths=0, label='peak dB(Z)', zorder=3)
ax1.scatter(t, peak_c, s=6, color='#ff00ff', linewidths=0, label='peak dB(C)', zorder=3)
ax1.scatter(t, peak_a, s=6, color='#2e8b57', linewidths=0, label='peak dB(A)', zorder=3)
ax1.plot(t, avg_z, color='#4682b4', lw=0.9, label='avg dB(Z)', zorder=4)
ax1.plot(t, avg_c, color='#da70d6', lw=0.9, label='avg dB(C)', zorder=4)
ax1.plot(t, avg_a, color='#9acd32', lw=0.9, label='avg dB(A)', zorder=4)
leg = ax1.legend(loc='lower right', ncol=2, fontsize=6.5, markerscale=1.6,
                 facecolor=bg, edgecolor='#deb887', framealpha=1, borderpad=0.5)
for line in leg.get_lines():
    line.set_linewidth(3)

ax2 = fig.add_axes([0.0242, 0.0417, 0.9525, 0.4208])
setup(ax2, '%H:%M:%S')
ax2.set_title('average noise level (5 min with 15s min/max dB envelope)', loc='left',
              fontsize=8, fontweight='bold')
ax2.fill_between(t, env_lo, env_hi, color='salmon', alpha=0.25, linewidth=0, zorder=2)
ax2.plot(t, lvl_z, color='#dc143c', lw=1.4, label='dB(Z)', zorder=4)
ax2.plot(t, lvl_c, color='#ff8c00', lw=1.4, label='dB(C)', zorder=4)
ax2.plot(t, lvl_a, color='#ffd700', lw=1.4, label='dB(A)', zorder=4)
leg = ax2.legend(loc='lower right', fontsize=6.5, facecolor=bg, edgecolor='#deb887',
                 framealpha=1)
for line in leg.get_lines():
    line.set_linewidth(3)

plt.savefig('out.png', dpi=100)
